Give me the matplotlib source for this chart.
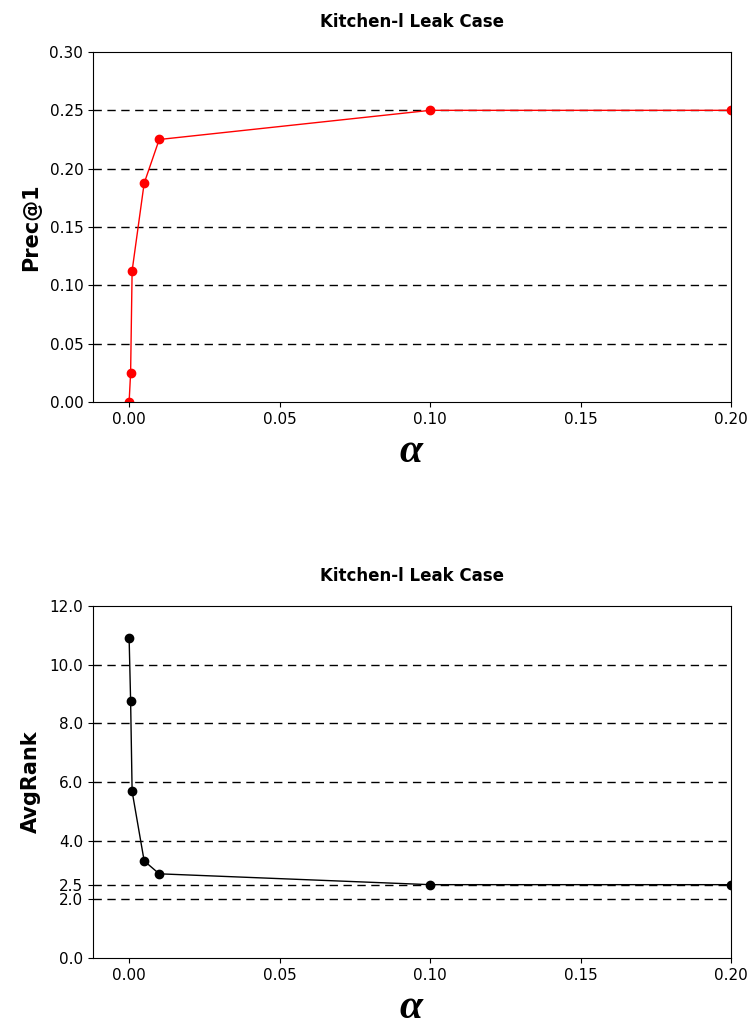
import numpy as np
import matplotlib
matplotlib.use("Agg")
import matplotlib.pyplot as plt

alpha = [0.0, 0.0005, 0.001, 0.005, 0.01, 0.1, 0.2]
prec1 = [0.0, 0.025, 0.1125, 0.1875, 0.225, 0.25, 0.25]
avgrank = [10.92, 8.76, 5.68, 3.31, 2.87, 2.5, 2.5]

title = "Kitchen-l Leak Case"
prec_ticks = [0.0, 0.05, 0.10, 0.15, 0.20, 0.25, 0.30]
rank_ticks = [0.0, 2.0, 2.5, 4.0, 6.0, 8.0, 10.0, 12.0]
x_ticks = [0.00, 0.05, 0.10, 0.15, 0.20]

plt.rcParams['font.family'] = ['DejaVu Sans']
plt.rcParams['mathtext.fontset'] = 'custom'
plt.rcParams['mathtext.it'] = 'Liberation Serif:italic:bold'
plt.rcParams['mathtext.rm'] = 'Liberation Serif'

fig = plt.figure(figsize=(7.49, 10.31), dpi=100)
ax1 = fig.add_axes([93 / 749, 1 - 402 / 1031, (731 - 93) / 749, (402 - 52) / 1031])
ax2 = fig.add_axes([93 / 749, 1 - 958 / 1031, (731 - 93) / 749, (958 - 606) / 1031])

def style(ax, ticks, fmt):
    for t in ticks[1:-1]:
        ax.axhline(t, color='black', ls='--', lw=1, dashes=(6, 4), zorder=0)
    ax.set_xlim(-0.012, 0.2)
    ax.set_ylim(ticks[0], ticks[-1])
    ax.set_yticks(ticks)
    ax.set_yticklabels([fmt.format(t) for t in ticks])
    ax.set_xticks(x_ticks)
    ax.set_xticklabels(["{:.2f}".format(t) for t in x_ticks])
    ax.tick_params(labelsize=11)
    ax.set_title(title, fontsize=12, fontweight='bold', pad=18)
    ax.set_xlabel(r"$\alpha$", fontsize=30, labelpad=2)

line1, = ax1.plot(alpha, prec1, color='red', marker='o', ms=6, lw=1)
line1.set_clip_path(ax1.patch)
style(ax1, prec_ticks, "{:.2f}")
ax1.set_ylabel("Prec@1", fontsize=15, fontweight='bold', labelpad=6)

line2, = ax2.plot(alpha, avgrank, color='black', marker='o', ms=6, lw=1)
line2.set_clip_path(ax2.patch)
style(ax2, rank_ticks, "{:.1f}")
ax2.set_ylabel("AvgRank", fontsize=15, fontweight='bold', labelpad=6)

fig.savefig("out.png", dpi=100)
